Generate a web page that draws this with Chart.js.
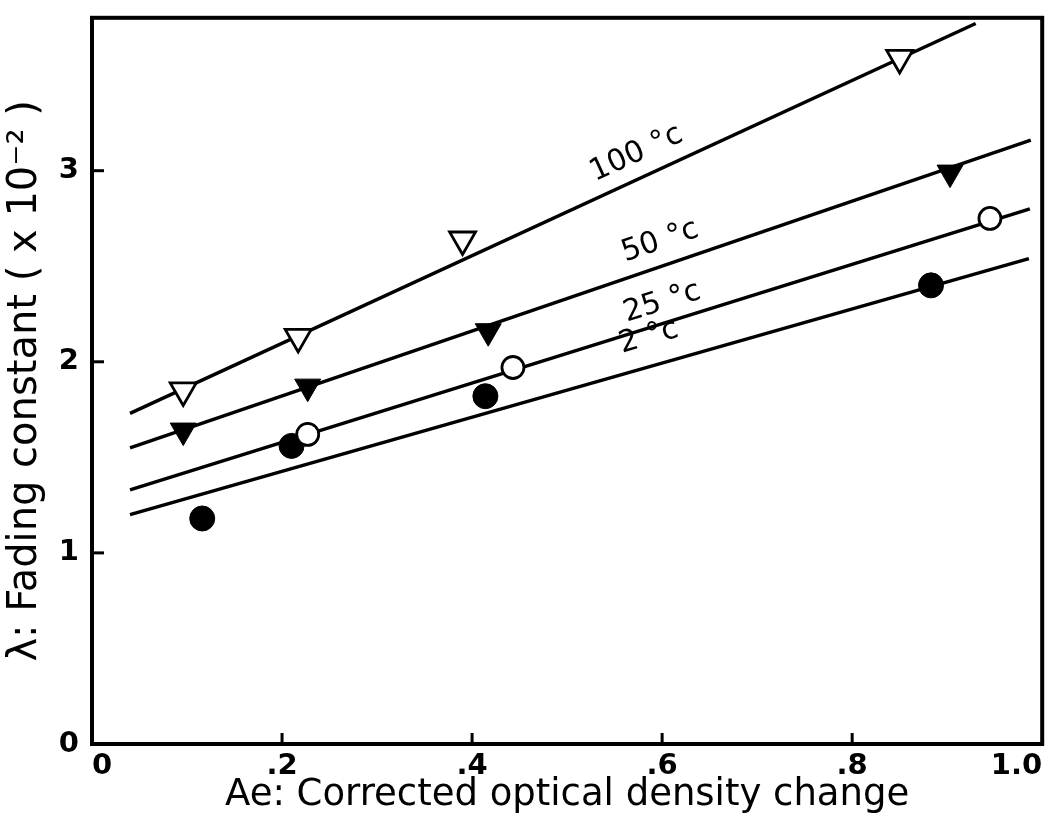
<!DOCTYPE html>
<html><head><meta charset="utf-8">
<script src="https://cdn.jsdelivr.net/npm/chart.js@4.4.0/dist/chart.umd.min.js"></script>
<style>html,body{margin:0;padding:0;background:#fff;}</style>
</head><body>
<canvas id="c" width="1060" height="818" style="display:block;width:1060px;height:818px"></canvas>
<script>
// ---- data ----
const xTicks = [0, 0.2, 0.4, 0.6, 0.8, 1.0];
const xTickLabels = ['0', '.2', '.4', '.6', '.8', '1.0'];
const yTicks = [0, 1, 2, 3];
const yTickLabels = ['0', '1', '2', '3'];
const seriesNames = ['100 °c', '50 °c', '25 °c', '2 °c'];

const x100 = [0.096, 0.217, 0.390, 0.850];
const y100 = [1.85, 2.13, 2.64, 3.59];
const x50 = [0.096, 0.227, 0.417, 0.903];
const y50 = [1.64, 1.87, 2.16, 2.99];
const x25 = [0.227, 0.443, 0.945];
const y25 = [1.62, 1.97, 2.75];
const x2 = [0.116, 0.210, 0.414, 0.883];
const y2 = [1.18, 1.56, 1.82, 2.40];

// fitted straight lines (end points)
const fit100X = [0.040, 0.930]; const fit100Y = [1.73, 3.77];
const fit50X = [0.040, 0.988];  const fit50Y = [1.55, 3.16];
const fit25X = [0.040, 0.987];  const fit25Y = [1.33, 2.80];
const fit2X = [0.040, 0.986];   const fit2Y = [1.20, 2.54];

// where the temperature labels sit (data coords)
const labelX = [0.573, 0.598, 0.600, 0.586];
const labelY = [3.09, 2.63, 2.31, 2.13];

const pts = (xs, ys) => xs.map((x, i) => ({x, y: ys[i]}));

const FONT = "'DejaVu Sans', sans-serif";
const TFONT = "'DejaVu Sans', 'Liberation Sans', sans-serif";

const fitLine = (xs, ys) => ({
  type: 'line', data: pts(xs, ys), borderColor: '#000', borderWidth: 3.5,
  pointRadius: 0, showLine: true, fill: false, order: 10, tension: 0
});

const fits = [[fit100X, fit100Y], [fit50X, fit50Y], [fit25X, fit25Y], [fit2X, fit2Y]];

const framePlugin = {
  id: 'frame',
  afterDatasetsDraw(chart) {
    const {ctx, chartArea: a, scales} = chart;
    ctx.save();
    ctx.strokeStyle = '#000';
    ctx.lineWidth = 4;
    ctx.strokeRect(a.left, a.top, a.right - a.left, a.bottom - a.top);
    ctx.lineWidth = 3;
    scales.x.ticks.forEach(t => {
      if (t.value <= 0 || t.value >= 1) return;
      const px = scales.x.getPixelForValue(t.value);
      ctx.beginPath(); ctx.moveTo(px, a.bottom); ctx.lineTo(px, a.bottom - 11); ctx.stroke();
    });
    scales.y.ticks.forEach(t => {
      if (t.value <= 0) return;
      const py = scales.y.getPixelForValue(t.value);
      ctx.beginPath(); ctx.moveTo(a.left, py); ctx.lineTo(a.left + 12, py); ctx.stroke();
    });
    // series labels, rotated along their fit lines
    ctx.fillStyle = '#000';
    ctx.font = "30px " + TFONT;
    ctx.textAlign = 'center';
    ctx.textBaseline = 'middle';
    seriesNames.forEach((name, i) => {
      const [fx, fy] = fits[i];
      const x1 = scales.x.getPixelForValue(fx[0]), y1 = scales.y.getPixelForValue(fy[0]);
      const x2p = scales.x.getPixelForValue(fx[1]), y2p = scales.y.getPixelForValue(fy[1]);
      const ang = Math.atan2(y2p - y1, x2p - x1);
      ctx.save();
      ctx.translate(scales.x.getPixelForValue(labelX[i]), scales.y.getPixelForValue(labelY[i]));
      ctx.rotate(ang);
      ctx.fillText(name, 0, 0);
      ctx.restore();
    });
    ctx.restore();
  }
};

new Chart(document.getElementById('c'), {
  type: 'scatter',
  data: {
    datasets: [
      ...fits.map(f => fitLine(f[0], f[1])),
      { label: '2', data: pts(x2, y2), pointStyle: 'circle', pointRadius: 12.5, pointBackgroundColor: '#000', pointBorderColor: '#000', pointBorderWidth: 1, order: 4 },
      { label: '25', data: pts(x25, y25), pointStyle: 'circle', pointRadius: 11, pointBackgroundColor: '#fff', pointBorderColor: '#000', pointBorderWidth: 2.8, order: 3 },
      { label: '50', data: pts(x50, y50), pointStyle: 'triangle', rotation: 180, pointRadius: 15, pointBackgroundColor: '#000', pointBorderColor: '#000', pointBorderWidth: 1, order: 2 },
      { label: '100', data: pts(x100, y100), pointStyle: 'triangle', rotation: 180, pointRadius: 15, pointBackgroundColor: '#fff', pointBorderColor: '#000', pointBorderWidth: 2.8, order: 1 }
    ]
  },
  options: {
    responsive: false,
    animation: false,
    devicePixelRatio: 1,
    layout: { padding: { top: 15, right: 17, left: 0, bottom: 0 } },
    plugins: { legend: { display: false }, tooltip: { enabled: false } },
    scales: {
      x: {
        type: 'linear', min: 0, max: 1.0,
        afterBuildTicks: s => { s.ticks = xTicks.map(v => ({value: v})); },
        ticks: { callback: v => xTickLabels[xTicks.indexOf(v)], color: '#000', font: { family: FONT, size: 29, weight: 'bold' }, padding: 5, maxRotation: 0, autoSkip: false, align: 'inner' },
        grid: { display: false, drawTicks: false },
        border: { display: false },
        title: { display: true, text: 'Ae: Corrected optical density change', color: '#000', font: { family: TFONT, size: 37 }, padding: { top: 0, bottom: 0 } },
        afterFit: s => { s.height = 74; s.paddingLeft = 0; s.paddingRight = 0; }
      },
      y: {
        type: 'linear', min: 0, max: 3.8,
        afterBuildTicks: s => { s.ticks = yTicks.map(v => ({value: v})); },
        ticks: { callback: v => yTickLabels[yTicks.indexOf(v)], color: '#000', font: { family: FONT, size: 29, weight: 'bold' }, padding: 13 },
        grid: { display: false, drawTicks: false },
        border: { display: false },
        title: { display: true, text: 'λ: Fading constant ( x 10⁻² )', color: '#000', font: { family: TFONT, size: 40 }, padding: { top: 2, bottom: 0 } },
        afterFit: s => { s.width = 92; s.paddingTop = 0; s.paddingBottom = 0; }
      }
    }
  },
  plugins: [framePlugin]
});
</script>
</body></html>
